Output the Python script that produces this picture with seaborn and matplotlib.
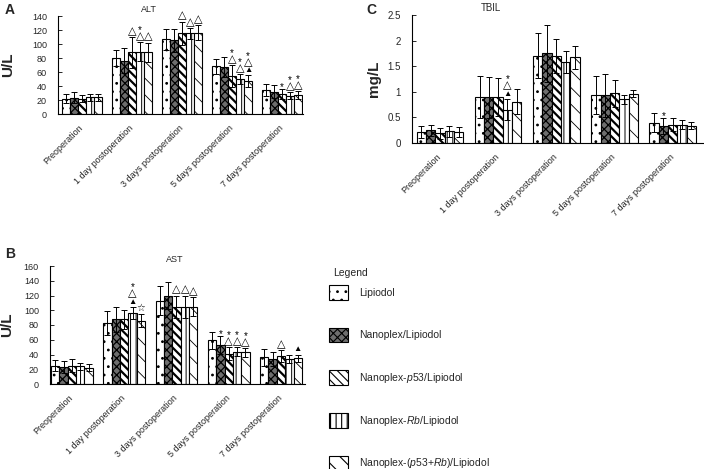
import numpy as np
import pandas as pd
import matplotlib
matplotlib.use("Agg")
import matplotlib.pyplot as plt
import seaborn as sns
from matplotlib.patches import Patch
from matplotlib.ticker import FixedLocator

sns.set_style("white")
plt.rcParams["font.family"] = ["Liberation Sans", "DejaVu Sans"]
plt.rcParams["mathtext.fontset"] = "custom"
plt.rcParams["mathtext.rm"] = "Liberation Sans"
plt.rcParams["mathtext.it"] = "Liberation Sans:italic"
plt.rcParams["hatch.linewidth"] = 0.8

# ---------------- data ----------------
times = ["Preoperation", "1 day postoperation", "3 days postoperation",
         "5 days postoperation", "7 days postoperation"]
groups = ["Lipiodol", "Nanoplex/Lipiodol", "Nanoplex-p53/Lipiodol",
          "Nanoplex-Rb/Lipiodol", "Nanoplex-(p53+Rb)/Lipiodol"]
legend_labels = ["Lipiodol", "Nanoplex/Lipiodol", "Nanoplex-$\\it{p53}$/Lipiodol",
                 "Nanoplex-$\\it{Rb}$/Lipiodol", "Nanoplex-($\\it{p53}$+$\\it{Rb}$)/Lipiodol"]

# ALT (U/L)
alt_lip = [22, 80, 107, 68, 34]
alt_nano = [23, 76, 105, 67, 32]
alt_p53 = [22, 88, 115, 54, 28]
alt_rb = [24, 89, 115, 50, 26]
alt_both = [24, 88, 116, 47, 27]
alt_lip_sd = [6, 12, 15, 11, 9]
alt_nano_sd = [8, 18, 17, 14, 9]
alt_p53_sd = [5, 22, 17, 16, 7]
alt_rb_sd = [5, 14, 8, 7, 5]
alt_both_sd = [5, 14, 11, 8, 6]
alt_marks = [(1, 2, "△"), (1, 3, "△*"), (1, 4, "△"),
             (2, 2, "△"), (2, 3, "△"), (2, 4, "△"),
             (3, 2, "△*"), (3, 3, "△*"), (3, 4, "▲△*"),
             (4, 2, "*"), (4, 3, "△*"), (4, 4, "△*")]

# AST (U/L)
ast_lip = [25, 83, 113, 59, 36]
ast_nano = [23, 88, 120, 53, 34]
ast_p53 = [25, 88, 105, 41, 38]
ast_rb = [24, 96, 105, 44, 34]
ast_both = [22, 86, 105, 43, 35]
ast_lip_sd = [8, 16, 20, 11, 11]
ast_nano_sd = [8, 17, 18, 12, 9]
ast_p53_sd = [9, 13, 15, 9, 8]
ast_rb_sd = [5, 8, 15, 6, 5]
ast_both_sd = [5, 9, 13, 6, 5]
ast_marks = [(1, 3, "▲△*"), (1, 4, "☆"),
             (2, 2, "△"), (2, 3, "△"), (2, 4, "△"),
             (3, 1, "*"), (3, 2, "△*"), (3, 3, "△*"), (3, 4, "△*"),
             (4, 2, "△"), (4, 4, "▲")]

# TBIL (mg/L)
tbil_lip = [0.22, 0.90, 1.70, 0.93, 0.40]
tbil_nano = [0.25, 0.89, 1.75, 0.93, 0.33]
tbil_p53 = [0.19, 0.89, 1.70, 0.97, 0.36]
tbil_rb = [0.23, 0.65, 1.58, 0.85, 0.36]
tbil_both = [0.22, 0.81, 1.67, 0.96, 0.34]
tbil_lip_sd = [0.12, 0.41, 0.44, 0.37, 0.19]
tbil_nano_sd = [0.11, 0.40, 0.55, 0.42, 0.15]
tbil_p53_sd = [0.11, 0.37, 0.34, 0.26, 0.12]
tbil_rb_sd = [0.11, 0.21, 0.21, 0.08, 0.08]
tbil_both_sd = [0.10, 0.24, 0.23, 0.07, 0.07]
tbil_marks = [(1, 3, "▲△*"), (4, 1, "*")]

# ---------------- styles ----------------
hatches = ["..", "xxxx", "\\\\\\\\", "|||", "\\\\"]
faces = ["white", "#6e6e6e", "white", "white", "white"]
hatch_lw = [0.8, 0.9, 1.6, 0.7, 0.6]
sym_size = {"△": 8, "▲": 6, "*": 7, "☆": 7}
sym_ext = {"△": (0.0, 0.80), "▲": (0.0, 0.75), "*": (0.42, 0.74), "☆": (0.0, 0.78)}


def draw(ax, means, sds, marks, ylim, yticks, ytlabels, xlim, yfs, xfs):
    df = pd.DataFrame({
        "time": np.tile(times, len(groups)),
        "group": np.repeat(groups, len(times)),
        "value": np.concatenate(means),
    })
    sns.barplot(data=df, x="time", y="value", hue="group", order=times,
                hue_order=groups, palette={g: "white" for g in groups},
                edgecolor="black", linewidth=0.8, errorbar=None, width=0.8,
                gap=0, legend=False, ax=ax)
    bar_conts = list(ax.containers)
    centers = []
    for i, cont in enumerate(bar_conts):
        xs, ys = [], []
        for bar in cont:
            bar.set_hatch(hatches[i])
            bar.set_facecolor(faces[i])
            if hasattr(bar, "set_hatch_linewidth"):
                bar.set_hatch_linewidth(hatch_lw[i])
            xs.append(bar.get_x() + bar.get_width() / 2)
            ys.append(bar.get_height())
        centers.append(xs)
        ax.errorbar(xs, ys, yerr=sds[i], fmt="none", ecolor="black",
                    elinewidth=0.7, capsize=2.2, capthick=0.7, zorder=5)
    for t, g, syms in marks:
        x = centers[g][t]
        y = means[g][t] + sds[g][t]
        top = 1.2  # points above the error bar cap
        for s in syms:
            size = sym_size[s]
            lo, hi = sym_ext[s]
            base = top + 1.0 - lo * size
            ax.annotate(s, xy=(x, y), xytext=(0, base), textcoords="offset points",
                        ha="center", va="baseline", fontsize=size, color="black",
                        annotation_clip=False)
            top = base + hi * size
    ax.set_ylim(*ylim)
    ax.set_xlim(*xlim)
    ax.set_yticks(yticks)
    ax.set_yticklabels(ytlabels, fontsize=yfs)
    ax.set_xticks(range(len(times)))
    ax.set_xticklabels(times, rotation=45, ha="right", va="center",
                       rotation_mode="anchor", fontsize=xfs)
    ax.xaxis.set_minor_locator(FixedLocator(np.arange(0.5, len(times) - 0.5, 1)))
    ax.tick_params(axis="x", which="major", length=0, pad=9)
    ax.tick_params(axis="x", which="minor", direction="in", length=3, width=0.7)
    ax.tick_params(axis="y", direction="in", length=3, width=0.7, pad=8, left=True)
    for sp in ["top", "right"]:
        ax.spines[sp].set_visible(False)
    for sp in ["left", "bottom"]:
        ax.spines[sp].set_color("black")
        ax.spines[sp].set_linewidth(0.8)
    ax.set_xlabel("")


W, H = 704, 469
fig = plt.figure(figsize=(W / 100, H / 100), dpi=100)


def axes_px(l, t, r, b):
    return fig.add_axes([l / W, 1 - b / H, (r - l) / W, (b - t) / H])


axA = axes_px(58, 16, 303, 114)
axB = axes_px(50, 266, 305, 384)
axC = axes_px(412, 15, 703, 143)

draw(axA, [alt_lip, alt_nano, alt_p53, alt_rb, alt_both],
     [alt_lip_sd, alt_nano_sd, alt_p53_sd, alt_rb_sd, alt_both_sd], alt_marks,
     (0, 140), range(0, 141, 20), [str(v) for v in range(0, 141, 20)], (-0.48, 4.42), 6.5, 6.5)
draw(axB, [ast_lip, ast_nano, ast_p53, ast_rb, ast_both],
     [ast_lip_sd, ast_nano_sd, ast_p53_sd, ast_rb_sd, ast_both_sd], ast_marks,
     (0, 160), range(0, 161, 20), [str(v) for v in range(0, 161, 20)], (-0.42, 4.46), 6.5, 6.5)
draw(axC, [tbil_lip, tbil_nano, tbil_p53, tbil_rb, tbil_both],
     [tbil_lip_sd, tbil_nano_sd, tbil_p53_sd, tbil_rb_sd, tbil_both_sd], tbil_marks,
     (0, 2.5), [0, 0.5, 1, 1.5, 2, 2.5], ["0", "0.5", "1", "1.5", "2", "2.5"], (-0.48, 4.52), 7, 6.5)

axA.set_title("ALT", x=0.37, fontsize=6.5, pad=3)
axB.set_title("AST", x=0.49, fontsize=6.5, pad=3)
axC.set_title("TBIL", x=0.27, fontsize=7, pad=3)

axA.set_ylabel("U/L", fontsize=11, fontweight="bold")
axA.yaxis.set_label_coords(-0.175, 0.5)
axB.set_ylabel("U/L", fontsize=11, fontweight="bold")
axB.yaxis.set_label_coords(-0.14, 0.5)
axC.set_ylabel("mg/L", fontsize=11, fontweight="bold")
axC.yaxis.set_label_coords(-0.105, 0.5)

fig.text(5 / W, 1 - 3 / H, "A", fontsize=10, fontweight="bold", va="top", ha="left")
fig.text(5 / W, 1 - 247 / H, "B", fontsize=10, fontweight="bold", va="top", ha="left")
fig.text(366 / W, 1 - 3 / H, "C", fontsize=10, fontweight="bold", va="top", ha="left")

fig.text(333 / W, 1 - 273 / H, "Legend", fontsize=7.5, va="center", ha="left")
handles = [Patch(facecolor=faces[i], edgecolor="black", hatch=hatches[i],
                 linewidth=0.8, label=legend_labels[i]) for i in range(len(groups))]
leg = fig.legend(handles=handles, loc="upper left", bbox_to_anchor=(329 / W, 1 - 285 / H),
                 frameon=False, fontsize=7.5,
                 handlelength=1.8, handleheight=1.8, labelspacing=2.68,
                 handletextpad=1.1, borderaxespad=0, borderpad=0)

fig.savefig("out.png", dpi=100)
